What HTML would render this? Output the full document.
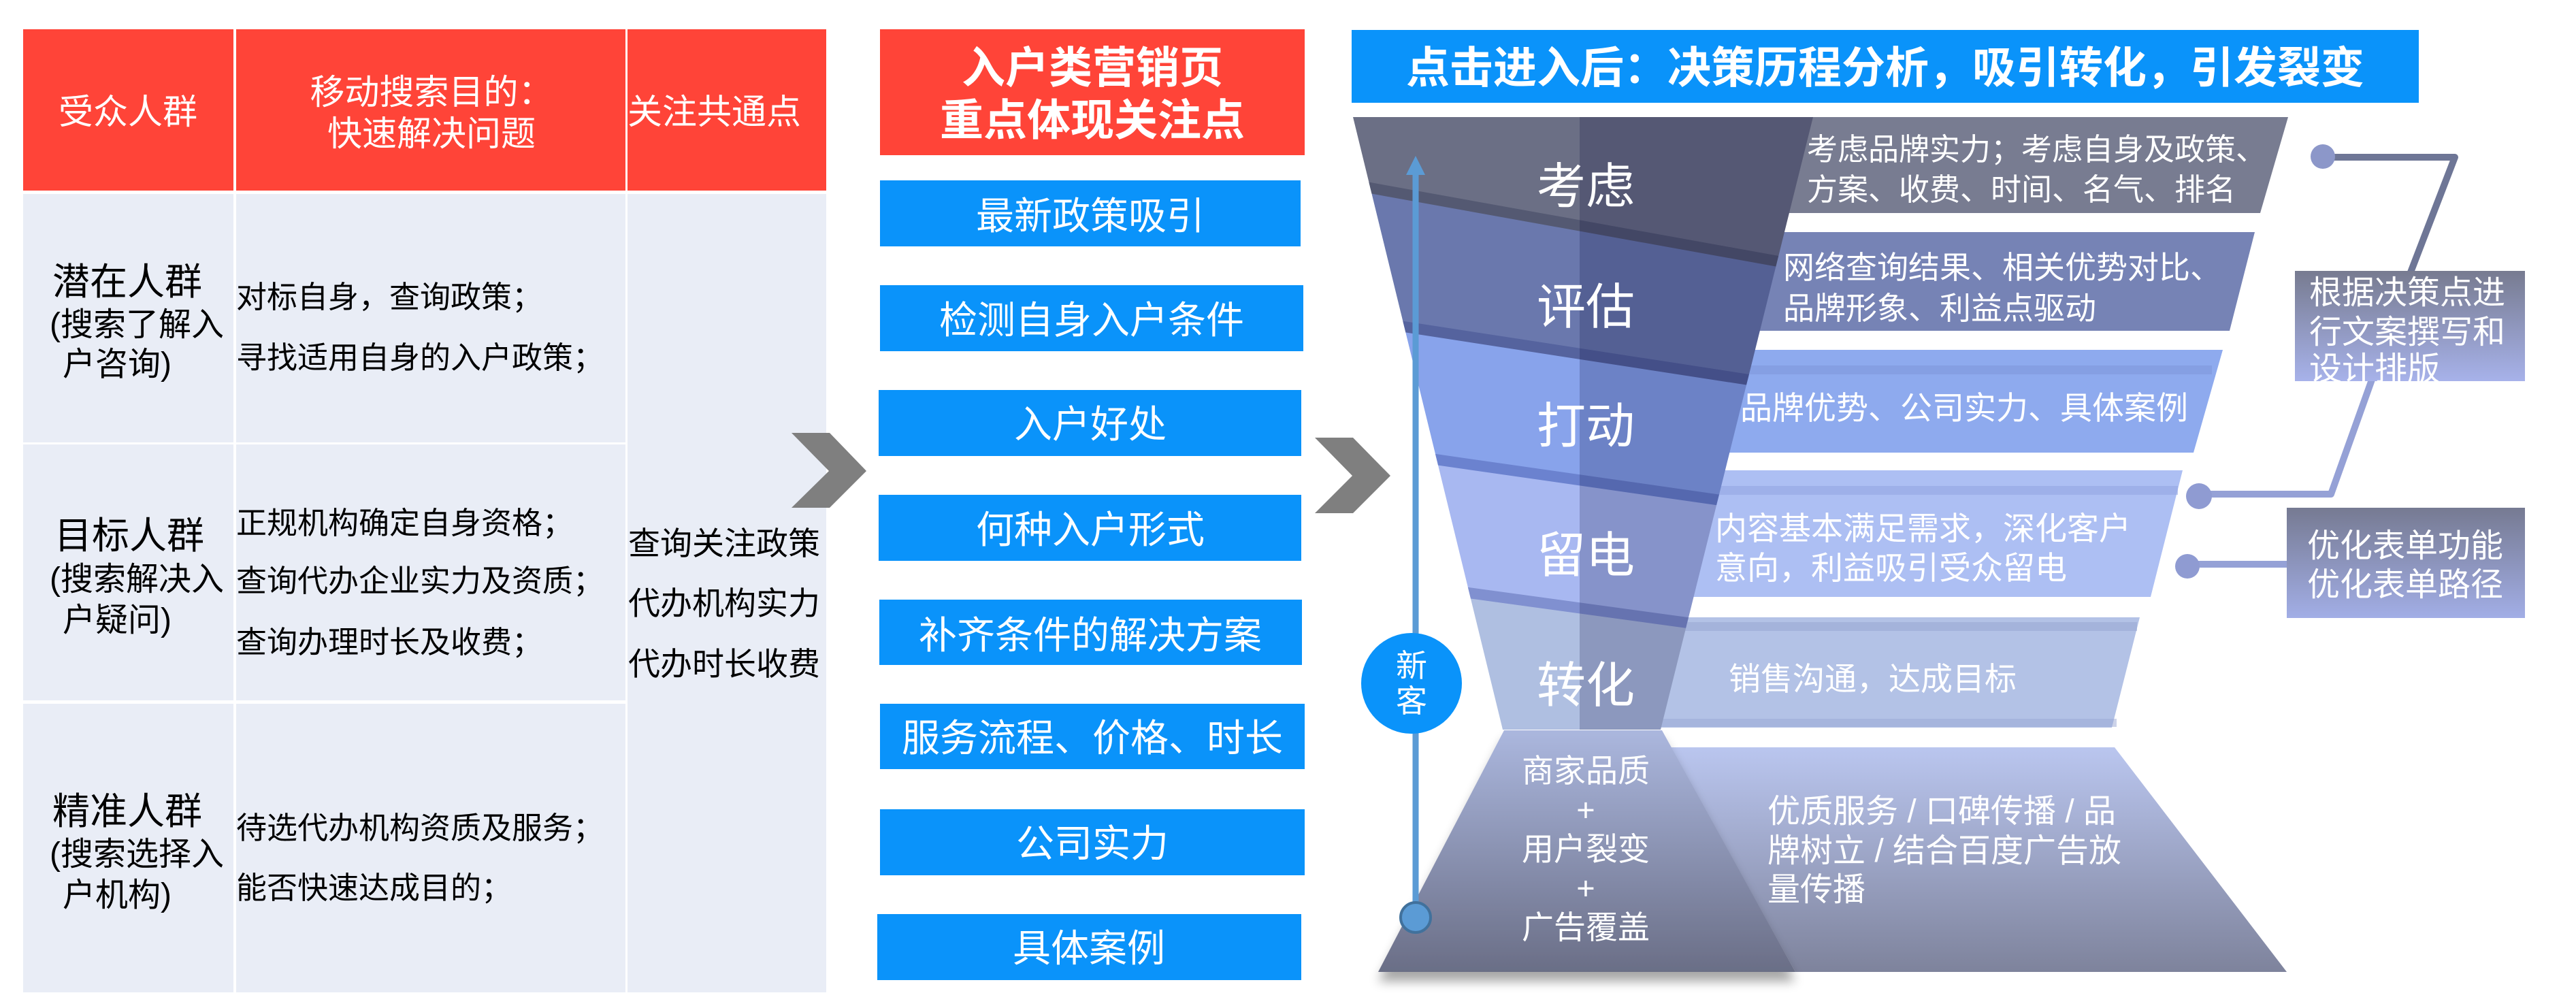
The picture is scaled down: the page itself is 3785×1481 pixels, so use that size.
<!DOCTYPE html>
<html><head><meta charset="utf-8">
<style>
html,body{margin:0;padding:0;background:#fff;}
svg{display:block;}
text{font-family:"Liberation Sans","Noto Sans CJK SC",sans-serif;}
</style></head>
<body>
<svg width="3785" height="1481" viewBox="0 0 3785 1481" xmlns="http://www.w3.org/2000/svg">
<defs>
<linearGradient id="gBase" x1="0" y1="0" x2="0" y2="1">
<stop offset="0" stop-color="#abb7de"/><stop offset="1" stop-color="#6a6e86"/></linearGradient>
<linearGradient id="gBar6" x1="0" y1="0" x2="0" y2="1">
<stop offset="0" stop-color="#bac6ef"/><stop offset="1" stop-color="#7e839c"/></linearGradient>
<linearGradient id="gBox1" x1="0" y1="0" x2="0" y2="1">
<stop offset="0" stop-color="#777b90"/><stop offset="1" stop-color="#a7b2ea"/></linearGradient>
<linearGradient id="gBox2" x1="0" y1="0" x2="0" y2="1">
<stop offset="0" stop-color="#767a92"/><stop offset="1" stop-color="#a2aee6"/></linearGradient>
<linearGradient id="gLine" x1="0" y1="0" x2="0" y2="1">
<stop offset="0" stop-color="#6e7696"/><stop offset="1" stop-color="#8f9bd0"/></linearGradient>
<clipPath id="fc"><polygon points="1988,172 2664,172 2440,1072 2208,1072"/></clipPath>
<filter id="sh" x="-10%" y="-10%" width="120%" height="130%">
<feGaussianBlur in="SourceAlpha" stdDeviation="8"/>
<feOffset dx="0" dy="14" result="o"/>
<feComponentTransfer><feFuncA type="linear" slope="0.35"/></feComponentTransfer>
<feMerge><feMergeNode/><feMergeNode in="SourceGraphic"/></feMerge>
</filter>
</defs>
<rect width="3785" height="1481" fill="#fff"/>

<!-- ===== LEFT TABLE ===== -->
<g fill="#ff4438">
<rect x="34" y="43" width="309" height="237"/>
<rect x="347" y="43" width="572" height="237"/>
<rect x="922" y="43" width="292" height="237"/>
</g>
<g fill="#e9edf6">
<rect x="34" y="285" width="309" height="365"/>
<rect x="347" y="285" width="572" height="365"/>
<rect x="34" y="653" width="309" height="376"/>
<rect x="347" y="653" width="572" height="376"/>
<rect x="34" y="1034" width="309" height="424"/>
<rect x="347" y="1034" width="572" height="424"/>
<rect x="922" y="285" width="292" height="1173"/>
</g>
<g fill="#fff" font-size="51">
<text x="188" y="182" text-anchor="middle">受众人群</text>
<text x="634" y="153" text-anchor="middle">移动搜索目的：</text>
<text x="634" y="214" text-anchor="middle">快速解决问题</text>
<text x="922" y="182">关注共通点</text>
</g>
<g fill="#000">
<text x="77" y="433" font-size="55">潜在人群</text>
<text x="73" y="493" font-size="48">(搜索了解入</text>
<text x="92" y="551" font-size="48">户咨询)</text>
<text x="80" y="806" font-size="55">目标人群</text>
<text x="73" y="867" font-size="48">(搜索解决入</text>
<text x="92" y="927" font-size="48">户疑问)</text>
<text x="77" y="1211" font-size="55">精准人群</text>
<text x="73" y="1271" font-size="48">(搜索选择入</text>
<text x="92" y="1331" font-size="48">户机构)</text>
<g font-size="45">
<text x="347" y="452">对标自身，查询政策；</text>
<text x="347" y="541">寻找适用自身的入户政策；</text>
<text x="347" y="784">正规机构确定自身资格；</text>
<text x="347" y="869">查询代办企业实力及资质；</text>
<text x="347" y="959">查询办理时长及收费；</text>
<text x="347" y="1232">待选代办机构资质及服务；</text>
<text x="347" y="1320">能否快速达成目的；</text>
</g>
<g font-size="47">
<text x="923" y="815">查询关注政策</text>
<text x="923" y="903">代办机构实力</text>
<text x="923" y="992">代办时长收费</text>
</g>
</g>

<!-- chevrons -->
<polygon points="1163,636 1219,636 1273,692 1219,746 1163,746 1218,692" fill="#7f7f7f"/>
<polygon points="1932,643 1988,643 2043,699 1988,754 1932,754 1987,699" fill="#7f7f7f"/>

<!-- ===== MIDDLE COLUMN ===== -->
<rect x="1293" y="43" width="624" height="185" fill="#ff4438"/>
<g fill="#fff" font-size="64" font-weight="bold" text-anchor="middle">
<text x="1605" y="122">入户类营销页</text>
<text x="1605" y="199">重点体现关注点</text>
</g>
<g fill="#0a93fa">
<rect x="1293" y="265" width="618" height="97"/>
<rect x="1293" y="419" width="622" height="97"/>
<rect x="1291" y="573" width="621" height="97"/>
<rect x="1291" y="727" width="621" height="97"/>
<rect x="1292" y="881" width="621" height="96"/>
<rect x="1293" y="1034" width="624" height="96"/>
<rect x="1293" y="1189" width="624" height="97"/>
<rect x="1289" y="1343" width="623" height="97"/>
</g>
<g fill="#fff" font-size="56" text-anchor="middle">
<text x="1602" y="337">最新政策吸引</text>
<text x="1604" y="490">检测自身入户条件</text>
<text x="1602" y="643">入户好处</text>
<text x="1602" y="798">何种入户形式</text>
<text x="1602" y="953">补齐条件的解决方案</text>
<text x="1605" y="1104">服务流程、价格、时长</text>
<text x="1605" y="1259">公司实力</text>
<text x="1600" y="1413">具体案例</text>
</g>

<!-- ===== RIGHT: TITLE ===== -->
<rect x="1986" y="44" width="1568" height="107" fill="#0a93fa"/>
<text x="2770" y="122" fill="#fff" font-size="64" font-weight="bold" text-anchor="middle">点击进入后：决策历程分析，吸引转化，引发裂变</text>

<!-- bars -->
<polygon points="2500,172 3362,172 3321,313 2500,313" fill="#787c91"/>
<polygon points="2500,341 3313,341 3276,486 2500,486" fill="#7683b5"/>
<polygon points="2450,514 3266,514 3223,665 2450,665" fill="#8eaaee"/>
<rect x="2450" y="537" width="800" height="13" fill="#7f98dc" opacity="0.6"/>
<polygon points="2400,691 3207,691 3160,877 2400,877" fill="#adbff3"/>
<rect x="2400" y="714" width="800" height="13" fill="#95a6e2" opacity="0.6"/>
<polygon points="2400,907 3144,907 3103,1069 2400,1069" fill="#b3c2e6"/>
<rect x="2400" y="914" width="740" height="13" fill="#9aa8d4" opacity="0.6"/>
<rect x="2400" y="1056" width="710" height="12" fill="#9aa8d4" opacity="0.5"/>
<polygon points="2455,1098 3107,1098 3360,1428 2638,1428" fill="url(#gBar6)"/>

<!-- funnel -->
<g clip-path="url(#fc)">
<polygon points="1900,150 2750,150 2750,408.7 1900,255.7" fill="#6b6f85"/>
<polygon points="1900,255.7 2750,408.7 2750,585.8 1900,454.9" fill="#6a78ad"/>
<polygon points="1900,454.9 2750,585.8 2750,766.7 1900,645.1" fill="#88a3eb"/>
<polygon points="1900,645.1 2750,766.7 2750,952.1 1900,835.7" fill="#a8b8f1"/>
<polygon points="1900,835.7 2750,952.1 2750,1100 1900,1100" fill="#afbfe1"/>
<line x1="1900" y1="255.7" x2="2750" y2="408.7" stroke="#545972" stroke-width="16"/>
<line x1="1900" y1="454.9" x2="2750" y2="585.8" stroke="#55639e" stroke-width="16"/>
<line x1="1900" y1="645.1" x2="2750" y2="766.7" stroke="#6b82cf" stroke-width="16"/>
<line x1="1900" y1="835.7" x2="2750" y2="952.1" stroke="#8090d0" stroke-width="16"/>
<rect x="2321" y="150" width="500" height="1000" fill="#000032" opacity="0.2"/>
</g>

<!-- base -->
<polygon points="2210,1073 2442,1073 2638,1428 2025,1428" fill="url(#gBase)" filter="url(#sh)"/>

<!-- blue arrow -->
<line x1="2080" y1="250" x2="2080" y2="1340" stroke="#5b9bd5" stroke-width="9"/>
<polygon points="2080,229 2066,257 2094,257" fill="#5b9bd5"/>
<circle cx="2080" cy="1348" r="22" fill="#5b9bd5" stroke="#41719c" stroke-width="4"/>
<circle cx="2074" cy="1004" r="74" fill="#0a93fa"/>
<g fill="#fff" font-size="46" text-anchor="middle">
<text x="2074" y="994">新</text>
<text x="2074" y="1046">客</text>
</g>

<!-- funnel labels -->
<g fill="#fff" font-size="72" text-anchor="middle">
<text x="2330" y="299">考虑</text>
<text x="2330" y="476">评估</text>
<text x="2330" y="651">打动</text>
<text x="2330" y="841">留电</text>
<text x="2330" y="1032">转化</text>
</g>

<!-- bar texts -->
<g fill="#fff">
<text x="2655" y="235" font-size="45">考虑品牌实力；考虑自身及政策、</text>
<text x="2655" y="294" font-size="45">方案、收费、时间、名气、排名</text>
<text x="2620" y="409" font-size="46">网络查询结果、相关优势对比、</text>
<text x="2620" y="469" font-size="46">品牌形象、利益点驱动</text>
<text x="2557" y="616" font-size="47">品牌优势、公司实力、具体案例</text>
<text x="2520" y="793" font-size="47">内容基本满足需求，深化客户</text>
<text x="2520" y="851" font-size="47">意向，利益吸引受众留电</text>
<text x="2540" y="1014" font-size="47">销售沟通，达成目标</text>
<text x="2597" y="1208" font-size="48">优质服务 / 口碑传播 / 品</text>
<text x="2597" y="1266" font-size="48">牌树立 / 结合百度广告放</text>
<text x="2597" y="1323" font-size="48">量传播</text>
</g>
<g fill="#fff" font-size="47" text-anchor="middle">
<text x="2330" y="1149">商家品质</text>
<text x="2330" y="1206">+</text>
<text x="2330" y="1264">用户裂变</text>
<text x="2330" y="1321">+</text>
<text x="2330" y="1379">广告覆盖</text>
</g>

<!-- connectors -->
<polyline points="3413,231 3607,231 3542,400" fill="none" stroke="#6e7696" stroke-width="10" stroke-linejoin="round"/>
<circle cx="3413" cy="230" r="18" fill="#8c97c9"/>
<polyline points="3485,558 3425,726 3231,726" fill="none" stroke="#95a1d6" stroke-width="10" stroke-linejoin="round"/>
<circle cx="3231" cy="729" r="19" fill="#8f9bd2"/>
<line x1="3214" y1="829" x2="3362" y2="829" stroke="#95a1d6" stroke-width="10"/>
<circle cx="3214" cy="832" r="18" fill="#8f9bd2"/>

<rect x="3372" y="398" width="338" height="162" fill="url(#gBox1)"/>
<rect x="3360" y="746" width="350" height="162" fill="url(#gBox2)"/>
<g fill="#fff" font-size="48">
<text x="3393" y="446">根据决策点进</text>
<text x="3393" y="504">行文案撰写和</text>
<text x="3393" y="558">设计排版</text>
<text x="3390" y="818">优化表单功能</text>
<text x="3390" y="875">优化表单路径</text>
</g>
</svg>
</body></html>
